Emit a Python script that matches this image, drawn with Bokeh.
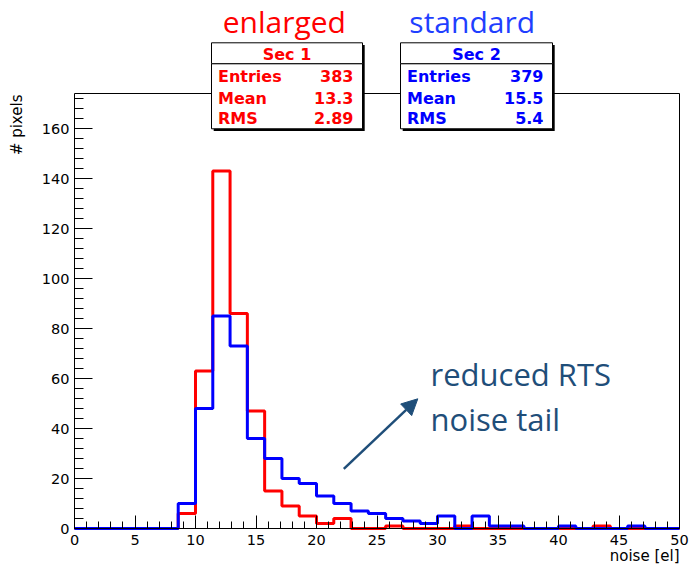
import numpy as np
from bokeh.plotting import figure
from bokeh.models import (BoxAnnotation, Label, Arrow, NormalHead, FixedTicker,
                          LinearAxis, Range1d)
from bokeh.embed import file_html
from bokeh.resources import INLINE

# ---------------- data ----------------
n_bins = 35
x_min, x_max = 0, 50
y_min, y_max = 0, 174
# counts per bin (bin width 50/35)
red_counts = [0, 0, 0, 0, 0, 0, 6, 63, 143, 86, 47, 15, 9, 5, 2, 4, 0, 0, 1, 0,
              0, 0, 1, 0, 0, 0, 0, 0, 0, 0, 1, 0, 0, 0, 0]
blue_counts = [0, 0, 0, 0, 0, 0, 10, 48, 85, 73, 36, 28, 20, 18, 13, 10, 7, 6, 4, 3,
               2, 5, 0, 5, 1, 1, 0, 0, 1, 0, 0, 0, 1, 0, 0]
x_major = [0, 5, 10, 15, 20, 25, 30, 35, 40, 45, 50]
x_minor = list(range(0, 51))
y_major = [0, 20, 40, 60, 80, 100, 120, 140, 160]
y_minor = list(range(0, 175, 4))
stat_names = ["Entries", "Mean", "RMS"]
red_title, blue_title = "Sec 1", "Sec 2"
red_stats = ["383", "13.3", "2.89"]
blue_stats = ["379", "15.5", "5.4"]
red_label, blue_label = "enlarged", "standard"
note_lines = ["reduced RTS", "noise tail"]
x_title, y_title = "noise [el]", "# pixels"

RED = "#FF0000"
BLUE = "#0000FF"
NOTE = "#1F4E79"

# ---------------- geometry ----------------
W, H = 693, 567
FL, FR, FT, FB = 74, 679, 93, 528   # plot-area edges in pixels


def X(px):
    return x_min + (px - FL) * (x_max - x_min) / (FR - FL)


def Y(py):
    return y_min + (FB - py) * (y_max - y_min) / (FB - FT)


def YB(py, fs):
    # baseline position corrected for the renderer's alphabetic offset
    return Y(py - 0.36 * fs)


# the frame covers the whole canvas so nothing outside the plot area is clipped
p = figure(width=W, height=H, output_backend="svg", toolbar_location=None,
           title=None, x_axis_location=None, y_axis_location=None,
           x_range=Range1d(X(0), X(W)), y_range=Range1d(Y(H), Y(0)),
           min_border=0)
p.xgrid.visible = False
p.ygrid.visible = False
p.outline_line_color = None
p.background_fill_color = "white"
p.border_fill_color = "white"

# histograms (step outlines)
edges = np.linspace(x_min, x_max, n_bins + 1)
for counts, col in ((red_counts, RED), (blue_counts, BLUE)):
    yy = list(counts) + [counts[-1]]
    p.step(x=list(edges), y=yy, mode="after", line_color=col, line_width=3)

# axes placed at fixed data locations
tick_font = "DejaVu Sans"
xa = LinearAxis(fixed_location=y_min, bounds=(x_min, x_max),
                ticker=FixedTicker(ticks=x_major, minor_ticks=x_minor),
                major_tick_in=13, major_tick_out=0, minor_tick_in=7, minor_tick_out=0,
                major_label_standoff=6)
ya = LinearAxis(fixed_location=x_min, bounds=(y_min, y_max),
                ticker=FixedTicker(ticks=y_major, minor_ticks=y_minor),
                major_tick_in=18, major_tick_out=0, minor_tick_in=9, minor_tick_out=0,
                major_label_standoff=5)
for ax in (xa, ya):
    ax.axis_line_color = "black"
    ax.axis_line_width = 1
    ax.major_tick_line_color = "black"
    ax.minor_tick_line_color = "black"
    ax.major_label_text_font = tick_font
    ax.major_label_text_font_size = "14.5px"
    ax.major_label_text_color = "black"
p.add_layout(xa, "below")
p.add_layout(ya, "left")

# top / right frame lines
for side, loc, bnd in (("above", y_max, (x_min, x_max)), ("right", x_max, (y_min, y_max))):
    ax = LinearAxis(fixed_location=loc, bounds=bnd, ticker=FixedTicker(ticks=[]),
                    major_tick_in=0, major_tick_out=0, minor_tick_in=0,
                    minor_tick_out=0, axis_line_color="black",
                    major_label_text_font_size="0px")
    p.add_layout(ax, side)

# axis titles
p.add_layout(Label(x=X(679), y=YB(560.5, 15), text=x_title, text_align="right",
                   text_baseline="alphabetic", text_font=tick_font,
                   text_font_size="15px", text_color="black"))
p.add_layout(Label(x=X(16.7), y=Y(94), text=y_title, angle=np.pi / 2,
                   text_align="right", text_baseline="middle", text_font=tick_font,
                   text_font_size="15px", text_color="black"))


# stat boxes
def stat_box(left_px, right_px, title, values, color):
    top, sep, bottom = 42.3, 63.3, 128.3
    sh = 2.2
    p.add_layout(BoxAnnotation(left=X(left_px + sh), right=X(right_px + sh),
                               top=Y(top + sh), bottom=Y(bottom + sh),
                               fill_color="black", fill_alpha=1, line_color=None))
    p.add_layout(BoxAnnotation(left=X(left_px), right=X(right_px), top=Y(top),
                               bottom=Y(sep), fill_color="white", fill_alpha=1,
                               line_color="black", line_alpha=1, line_width=1))
    p.add_layout(BoxAnnotation(left=X(left_px), right=X(right_px), top=Y(sep),
                               bottom=Y(bottom), fill_color="white", fill_alpha=1,
                               line_color="black", line_alpha=1, line_width=1))
    fs = 16
    common = dict(text_font="DejaVu Sans", text_font_style="bold",
                  text_font_size=f"{fs}px", text_color=color, text_baseline="alphabetic")
    p.add_layout(Label(x=X((left_px + right_px) / 2), y=YB(60, fs), text=title,
                       text_align="center", **common))
    for name, val, base in zip(stat_names, values, (81.7, 103.3, 123.3)):
        p.add_layout(Label(x=X(left_px + 6.5), y=YB(base, fs), text=name,
                           text_align="left", **common))
        p.add_layout(Label(x=X(right_px - 9), y=YB(base, fs), text=val,
                           text_align="right", **common))


stat_box(211, 362, red_title, red_stats, RED)
stat_box(400, 552, blue_title, blue_stats, BLUE)

# titles above boxes
title_fs = 30
p.add_layout(Label(x=X(283.8), y=YB(32, title_fs), text=red_label, text_align="center",
                   text_baseline="alphabetic", text_font="Open Sans",
                   text_font_size=f"{title_fs}px", text_color=RED))
p.add_layout(Label(x=X(471.7), y=YB(32, title_fs), text=blue_label, text_align="center",
                   text_baseline="alphabetic", text_font="Open Sans",
                   text_font_size=f"{title_fs}px", text_color="#1F3FFF"))

# annotation text and arrow
for line, base in zip(note_lines, (385, 430)):
    p.add_layout(Label(x=X(430), y=YB(base, 31), text=line, text_align="left",
                       text_baseline="alphabetic", text_font="Open Sans",
                       text_font_size="31px", text_color=NOTE))
p.add_layout(Arrow(x_start=X(343.3), y_start=Y(468.3), x_end=X(417.3), y_end=Y(398.3),
                   line_color=NOTE, line_width=2.5,
                   end=NormalHead(size=16, fill_color=NOTE, line_color=NOTE)))

open("out.html", "w").write(file_html(p, INLINE))
